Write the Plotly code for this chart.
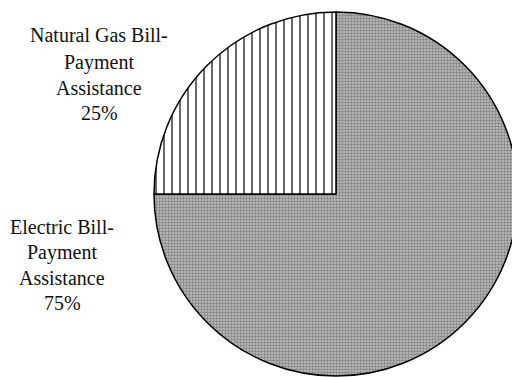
import plotly.graph_objects as go

labels = ["Electric Bill-Payment Assistance", "Natural Gas Bill-Payment Assistance"]
values = [75, 25]
label_lines = [
    ["Electric Bill-", "Payment", "Assistance", "75%"],
    ["Natural Gas Bill-", "Payment", "Assistance", "25%"],
]

# page body has an 8px margin, so work in figure coordinates offset by 8
OFF = 8
W, H = 520 - OFF, 377 - OFF
cx, cy, r = 336 - OFF, 194 - OFF, 182

fig = go.Figure(go.Pie(
    labels=labels,
    values=values,
    sort=False,
    direction="clockwise",
    rotation=0,
    textinfo="none",
    hoverinfo="label+percent",
    showlegend=False,
    domain=dict(x=[(cx - r) / W, (cx + r) / W], y=[1 - (cy + r) / H, 1 - (cy - r) / H]),
    marker=dict(
        colors=["#b0b0b0", "#ffffff"],
        line=dict(color="#000000", width=1.5),
        pattern=dict(
            shape=[".", "|"],
            fgcolor=["#848484", "#555555"],
            bgcolor=["#c0c0c0", "#ffffff"],
            size=[3, 8],
            solidity=[0.5, 0.22],
        ),
    ),
))

label_pos = [
    (62, [227, 253, 278, 303]),
    (99, [35, 62, 88, 113]),
]
ann = []
for lines, (x, ys) in zip(label_lines, label_pos):
    for t, y in zip(lines, ys):
        ann.append(dict(
            text=t, x=(x - OFF) / W, y=1 - (y - OFF) / H, xref="paper", yref="paper",
            xanchor="center", yanchor="middle", showarrow=False,
            font=dict(family="Liberation Serif, Times New Roman, serif", size=20, color="#111111"),
        ))

fig.update_layout(
    width=W, height=H,
    margin=dict(l=0, r=0, t=0, b=0),
    paper_bgcolor="white",
    plot_bgcolor="white",
    annotations=ann,
)
fig.write_html("out.html")
